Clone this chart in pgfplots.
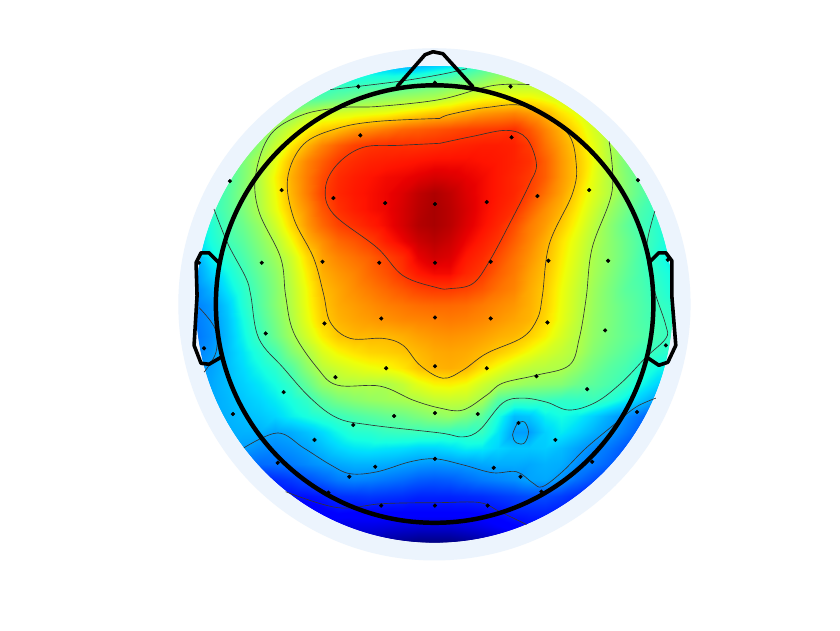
\documentclass[border=0pt]{standalone}
\usepackage{pgfplots}
\pgfplotsset{compat=1.18}
\pgfplotsset{
  colormap={mnejet}{rgb255(0pt)=(0,0,128) rgb255(110pt)=(0,0,255) rgb255(125pt)=(0,0,255) rgb255(340pt)=(0,219,255) rgb255(350pt)=(0,230,247) rgb255(375pt)=(21,255,226) rgb255(640pt)=(239,255,8) rgb255(650pt)=(247,246,0) rgb255(660pt)=(255,236,0) rgb255(890pt)=(255,19,0) rgb255(910pt)=(232,0,0) rgb255(1000pt)=(128,0,0)},
  contour/.style={black!80,line width=0.65pt,smooth,tension=0.6,no marks},
  head/.style={black,line width=3.6pt,line join=round,line cap=round,no marks},
}
\definecolor{ring}{RGB}{236,244,253}
\begin{document}
\begin{tikzpicture}
\begin{axis}[
  scale only axis,
  width=840pt,height=630pt,
  xmin=0,xmax=840,ymin=0,ymax=630,
  y dir=reverse,
  hide axis,
  clip=false,
  colormap name=mnejet,
  point meta min=0,point meta max=1,
]
\path (axis cs:0,0) (axis cs:840,630);
% field, 31 values per row, rows 16 px apart from the top of the disc down
\addplot[surf,shader=interp,mesh/cols=31,mesh/rows=31,mesh/ordering=x varies,point meta=explicit]
 table[row sep=crcr,header=false,x expr={194+16*mod(\coordindex,31)},y expr={64+16*floor(\coordindex/31)},meta index=0]{
.38\\.38\\.38\\.38\\.38\\.38\\.38\\.38\\.37\\.36\\.34\\.33\\.32\\.31\\.31\\.33\\.35\\.39\\.43\\.47\\.50\\.5\\.5\\.5\\.5\\.5\\.5\\.5\\.5\\.5\\.5\\
.38\\.38\\.38\\.38\\.38\\.38\\.38\\.38\\.39\\.40\\.40\\.41\\.415\\.425\\.44\\.46\\.48\\.50\\.53\\.56\\.56\\.56\\.55\\.53\\.53\\.53\\.53\\.53\\.53\\.53\\.53\\
.42\\.42\\.42\\.42\\.42\\.42\\.42\\.44\\.45\\.47\\.49\\.51\\.525\\.54\\.55\\.56\\.59\\.62\\.64\\.65\\.65\\.65\\.63\\.60\\.57\\.54\\.52\\.5\\.5\\.5\\.5\\
.44\\.44\\.44\\.44\\.44\\.48\\.52\\.57\\.60\\.61\\.62\\.63\\.64\\.66\\.68\\.70\\.71\\.73\\.75\\.76\\.77\\.75\\.72\\.67\\.63\\.58\\.54\\.5\\.48\\.48\\.48\\
.42\\.42\\.42\\.45\\.50\\.55\\.60\\.65\\.69\\.71\\.74\\.76\\.78\\.80\\.81\\.82\\.83\\.84\\.845\\.85\\.86\\.82\\.77\\.72\\.67\\.61\\.56\\.51\\.47\\.45\\.45\\
.42\\.42\\.44\\.47\\.52\\.59\\.66\\.72\\.77\\.81\\.84\\.855\\.86\\.86\\.86\\.865\\.87\\.875\\.88\\.88\\.875\\.85\\.79\\.74\\.69\\.63\\.565\\.50\\.46\\.44\\.44\\
.40\\.42\\.46\\.50\\.56\\.63\\.71\\.77\\.81\\.85\\.865\\.875\\.88\\.885\\.89\\.895\\.895\\.895\\.89\\.885\\.875\\.86\\.81\\.75\\.70\\.64\\.57\\.50\\.45\\.43\\.43\\
.38\\.40\\.44\\.50\\.57\\.65\\.725\\.78\\.83\\.865\\.88\\.89\\.90\\.905\\.915\\.925\\.92\\.91\\.90\\.885\\.87\\.85\\.81\\.75\\.70\\.63\\.57\\.51\\.46\\.43\\.42\\
.37\\.40\\.45\\.51\\.565\\.64\\.72\\.78\\.84\\.87\\.885\\.895\\.905\\.92\\.945\\.96\\.945\\.92\\.90\\.885\\.87\\.84\\.79\\.74\\.68\\.62\\.57\\.51\\.46\\.42\\.40\\
.37\\.41\\.45\\.50\\.56\\.63\\.705\\.76\\.82\\.86\\.88\\.895\\.905\\.925\\.95\\.965\\.95\\.925\\.90\\.88\\.86\\.81\\.76\\.72\\.66\\.60\\.54\\.49\\.44\\.41\\.39\\
.36\\.39\\.44\\.48\\.53\\.60\\.68\\.75\\.80\\.84\\.86\\.88\\.90\\.925\\.955\\.965\\.95\\.92\\.895\\.87\\.83\\.78\\.745\\.695\\.64\\.58\\.52\\.47\\.43\\.40\\.37\\
.34\\.38\\.425\\.46\\.51\\.565\\.64\\.72\\.76\\.80\\.82\\.845\\.88\\.905\\.935\\.95\\.935\\.905\\.88\\.855\\.81\\.77\\.725\\.67\\.62\\.565\\.52\\.48\\.44\\.40\\.36\\
.32\\.36\\.40\\.44\\.49\\.54\\.60\\.68\\.74\\.77\\.79\\.81\\.84\\.865\\.91\\.93\\.92\\.885\\.865\\.83\\.79\\.755\\.715\\.66\\.61\\.555\\.52\\.48\\.435\\.39\\.35\\
.29\\.33\\.37\\.42\\.47\\.52\\.585\\.66\\.725\\.75\\.77\\.80\\.825\\.855\\.885\\.90\\.90\\.87\\.85\\.81\\.78\\.74\\.705\\.65\\.60\\.55\\.51\\.47\\.435\\.40\\.37\\
.26\\.30\\.35\\.40\\.455\\.51\\.575\\.645\\.71\\.735\\.76\\.78\\.80\\.82\\.84\\.85\\.85\\.84\\.82\\.79\\.77\\.73\\.695\\.64\\.59\\.54\\.50\\.46\\.44\\.41\\.38\\
.25\\.275\\.325\\.39\\.45\\.51\\.57\\.64\\.70\\.73\\.745\\.76\\.775\\.785\\.795\\.80\\.80\\.795\\.78\\.765\\.75\\.725\\.69\\.635\\.585\\.535\\.50\\.47\\.445\\.42\\.40\\
.25\\.27\\.315\\.375\\.435\\.495\\.56\\.63\\.69\\.72\\.735\\.745\\.755\\.765\\.77\\.775\\.78\\.775\\.765\\.75\\.735\\.72\\.68\\.63\\.58\\.53\\.50\\.47\\.445\\.425\\.41\\
.24\\.265\\.31\\.365\\.42\\.48\\.545\\.605\\.66\\.70\\.715\\.715\\.715\\.725\\.74\\.75\\.755\\.75\\.74\\.725\\.715\\.69\\.655\\.61\\.57\\.525\\.495\\.47\\.45\\.43\\.41\\
.24\\.275\\.31\\.35\\.39\\.435\\.505\\.56\\.615\\.65\\.67\\.685\\.69\\.70\\.715\\.73\\.735\\.73\\.715\\.695\\.67\\.64\\.61\\.585\\.56\\.51\\.48\\.455\\.425\\.41\\.39\\
.26\\.285\\.31\\.34\\.37\\.40\\.45\\.52\\.575\\.60\\.62\\.635\\.645\\.665\\.70\\.72\\.725\\.715\\.67\\.635\\.60\\.58\\.57\\.56\\.525\\.485\\.455\\.435\\.40\\.37\\.35\\
.28\\.29\\.31\\.33\\.35\\.375\\.41\\.47\\.53\\.56\\.565\\.565\\.56\\.585\\.625\\.65\\.655\\.64\\.60\\.565\\.545\\.53\\.52\\.51\\.48\\.46\\.44\\.415\\.37\\.335\\.31\\
.28\\.29\\.305\\.32\\.335\\.355\\.38\\.41\\.46\\.495\\.515\\.53\\.54\\.55\\.565\\.585\\.59\\.585\\.55\\.45\\.425\\.425\\.42\\.41\\.41\\.42\\.395\\.36\\.32\\.28\\.26\\
.28\\.29\\.30\\.31\\.32\\.335\\.36\\.38\\.40\\.42\\.44\\.455\\.47\\.48\\.50\\.52\\.53\\.50\\.46\\.38\\.31\\.32\\.36\\.375\\.36\\.33\\.295\\.265\\.235\\.21\\.19\\
.28\\.285\\.295\\.30\\.30\\.285\\.295\\.315\\.34\\.37\\.395\\.40\\.415\\.42\\.42\\.42\\.415\\.41\\.415\\.35\\.28\\.28\\.33\\.355\\.33\\.30\\.275\\.245\\.215\\.19\\.17\\
.28\\.285\\.285\\.28\\.265\\.26\\.27\\.285\\.31\\.335\\.35\\.355\\.35\\.345\\.335\\.335\\.345\\.36\\.355\\.335\\.32\\.32\\.325\\.31\\.285\\.26\\.24\\.21\\.19\\.17\\.15\\
.27\\.27\\.26\\.24\\.23\\.235\\.245\\.26\\.275\\.29\\.30\\.30\\.295\\.285\\.275\\.27\\.275\\.28\\.29\\.295\\.295\\.29\\.30\\.295\\.265\\.245\\.22\\.20\\.18\\.16\\.15\\
.2\\.2\\.18\\.16\\.15\\.165\\.18\\.20\\.22\\.245\\.255\\.25\\.24\\.23\\.215\\.21\\.215\\.23\\.245\\.255\\.265\\.285\\.29\\.265\\.23\\.20\\.18\\.16\\.14\\.13\\.12\\
.15\\.15\\.14\\.13\\.13\\.13\\.135\\.14\\.15\\.17\\.175\\.18\\.175\\.17\\.16\\.16\\.16\\.165\\.17\\.18\\.19\\.20\\.20\\.185\\.165\\.15\\.13\\.12\\.11\\.1\\.1\\
.1\\.1\\.1\\.1\\.1\\.1\\.1\\.10\\.115\\.13\\.125\\.125\\.125\\.125\\.125\\.125\\.125\\.125\\.13\\.14\\.155\\.16\\.16\\.15\\.13\\.1\\.1\\.1\\.1\\.1\\.1\\
.08\\.08\\.08\\.08\\.08\\.08\\.08\\.08\\.08\\.08\\.085\\.085\\.08\\.075\\.07\\.07\\.07\\.08\\.09\\.105\\.12\\.13\\.13\\.12\\.12\\.12\\.12\\.12\\.12\\.12\\.12\\
.04\\.04\\.04\\.04\\.04\\.04\\.04\\.04\\.04\\.04\\.04\\.04\\.02\\.01\\0\\0\\0\\.01\\.03\\.05\\.05\\.05\\.05\\.05\\.05\\.05\\.05\\.05\\.05\\.05\\.05\\
};
% disc mask and pale ring
\fill[white,even odd rule] (axis cs:-2,-2) rectangle (axis cs:842,632) (axis cs:434.5,303.5) circle[radius=240pt];
\draw[ring,line width=17.5pt] (axis cs:434.5,303.8) circle[radius=248.6pt];
% contours
\addplot[contour] coordinates {(440,142)(400,144)(363,146)(337,163)(325,187)(333,213)(377,247)(403,275)(437,287)(450,288)(473,283)(490,260)(513,217)(530,183)(537,163)(527,137)(507,129)(473,135)(440,142)};
\addplot[contour] coordinates {(440,117)(377,120)(337,127)(303,143)(287,177)(293,217)(313,257)(323,293)(330,322)(350,338)(383,338)(403,345)(420,365)(443,378)(463,370)(487,353)(523,337)(538,318)(543,295)(550,243)(573,193)(577,163)(567,130)(527,105)(487,106)(450,113)(440,117)};
\addplot[contour] coordinates {(610,140)(613,190)(593,247)(587,297)(580,338)(570,365)(537,375)(503,383)(487,395)(463,410)(440,408)(413,400)(380,386)(337,385)(317,368)(293,332)(285,295)(280,257)(258,210)(255,173)(270,133)(303,113)(343,106)(377,105)(440,98)(493,84)(530,83)};
\addplot[contour] coordinates {(330,88)(397,80)(440,73)(467,67)};
\addplot[contour] coordinates {(656,210)(648,243)(650,270)(657,295)(667,325)(667,338)(647,357)(623,382)(597,402)(570,410)(547,402)(523,398)(503,403)(480,430)(463,437)(440,433)(370,425)(337,418)(310,398)(283,368)(258,338)(250,295)(245,277)(227,243)(213,208)};
\addplot[contour] coordinates {(243,448)(277,433)(303,448)(330,465)(350,474)(377,472)(410,462)(435,459)(463,465)(493,473)(517,472)(533,483)(543,487)(563,472)(587,448)(617,423)(637,407)(657,398)};
\addplot[contour] coordinates {(198,307)(214,328)(215,352)(203,372)};
\addplot[contour] coordinates {(518,423)(525,422)(529,432)(525,443)(517,443)(513,435)(518,423)};
\addplot[contour] coordinates {(285,492)(337,508)(383,504)(440,503)(480,503)(500,512)(527,525)};
% head outline
\draw[black,line width=4.5pt] (axis cs:434.7,303.5) circle[radius=219.8pt];
\addplot[head] coordinates {(397,85)(425,53)(433,50)(443,52)(473,85)};
\addplot[head] coordinates {(218,262)(208,252)(200,252)(195,262)(196,295)(193,345)(200,363)(208,364)(220,357)};
\addplot[head] coordinates {(650,262)(660,252)(667,252)(673,260)(673,295)(677,345)(669,362)(660,365)(648,357)};
% sensors
\addplot[only marks,mark=*,mark size=1.9pt,black] coordinates {
(358,85)(435,81)(511,85)(360,134)(512,136)(229,180)(639,179)(281,189)(333,197)(385,202)(435,203)(487,201)(538,195)(590,189)
(198,262)(261,262)(322,261)(379,262)(435,262)(491,261)(549,260)(609,260)(669,259)
(265,333)(324,323)(381,318)(435,317)(491,318)(548,322)(606,330)(203,348)(667,345)
(283,392)(335,377)(386,368)(435,366)(487,368)(537,376)(588,389)
(232,414)(353,425)(394,416)(435,413)(478,414)(519,423)(556,440)(638,412)
(314,440)(277,463)(375,467)(349,477)(435,459)(494,468)(521,477)(593,462)
(328,493)(381,506)(435,506)(488,506)(542,492)};
\end{axis}
\end{tikzpicture}
\end{document}
